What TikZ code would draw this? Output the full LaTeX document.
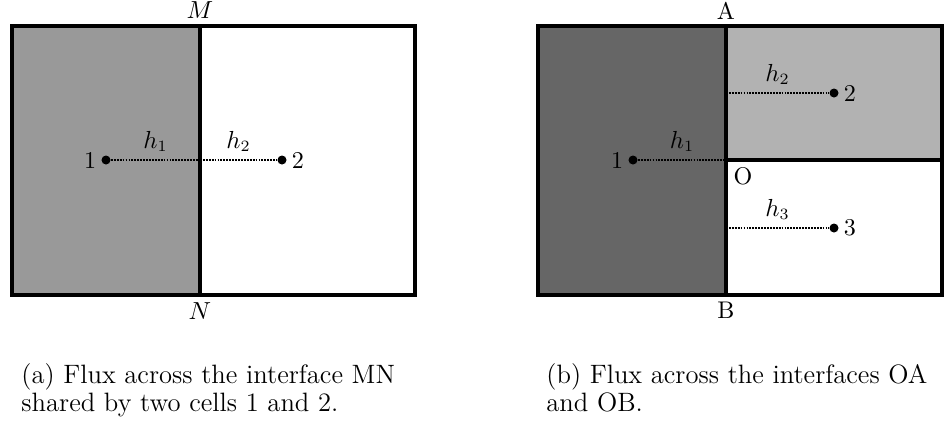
\documentclass[tikz,border=0pt]{standalone}
\usepackage{amsmath,amssymb}
\usetikzlibrary{positioning}

\begin{document}
\begin{tikzpicture}[
  x=0.444pt,y=-0.444pt,
  every node/.style={font=\fontsize{10.7pt}{12pt}\selectfont},
  wall/.style={line width=1.8pt},
  dot/.style={circle,fill=black,inner sep=0pt,minimum size=4pt},
  flux/.style={dash pattern=on 0.8pt off 0.5pt,line width=0.5pt},
  lab/.style={inner sep=1pt},
  capt/.style={anchor=base west,align=left,inner sep=0pt,font=\fontsize{11.8pt}{12.2pt}\selectfont}
]
\useasboundingbox (0,0) rectangle (947,425);

% (a) two cells sharing MN
\fill[black!40] (12,26) rectangle (200,295);
\draw[wall] (12,26) rectangle (415,295);
\draw[wall] (200,26) -- (200,295);
\node (M) at (200,10)  {$M$};
\node (N) at (200,311) {$N$};

\node[dot] (a1) at (106,160) {};
\node[dot] (a2) at (282,160) {};
\coordinate (mn) at (200,160);
\node[lab,left=1pt of a1]  {1};
\node[lab,right=1pt of a2] {2};
\draw[flux] (a1) -- (mn) node[midway,above]{$h_1$};
\draw[flux] (mn) -- (a2) node[midway,above]{$h_2$};

% (b) one cell against two cells, split at O
\fill[black!60] (538,26) rectangle (726,295);
\fill[black!30] (726,26) rectangle (942,160);
\draw[wall] (538,26) rectangle (942,295);
\draw[wall] (726,26) -- (726,295);
\draw[wall] (726,160) -- (942,160);
\node (A) at (726,11)  {A};
\node (B) at (726,310) {B};
\node[anchor=north west,inner sep=1pt] (O) at (731,165) {O};

\node[dot] (b1) at (633,160) {};
\node[dot] (b2) at (834,93)  {};
\node[dot] (b3) at (834,228) {};
\coordinate (bo) at (726,160);
\coordinate (ba) at (726,93);
\coordinate (bb) at (726,228);
\node[lab,left=1pt of b1]  {1};
\node[lab,right=1pt of b2] {2};
\node[lab,right=1pt of b3] {3};
\draw[flux] (b1) -- (bo) node[midway,above]{$h_1$};
\draw[flux] (ba) -- (b2) node[midway,above]{$h_2$};
\draw[flux] (bb) -- (b3) node[midway,above]{$h_3$};

% captions
\node[capt] (capa) at (21,411)  {(a) Flux across the interface MN\\shared by two cells 1 and 2.};
\node[capt] (capb) at (546,411) {(b) Flux across the interfaces OA\\and OB.};
\end{tikzpicture}
\end{document}
